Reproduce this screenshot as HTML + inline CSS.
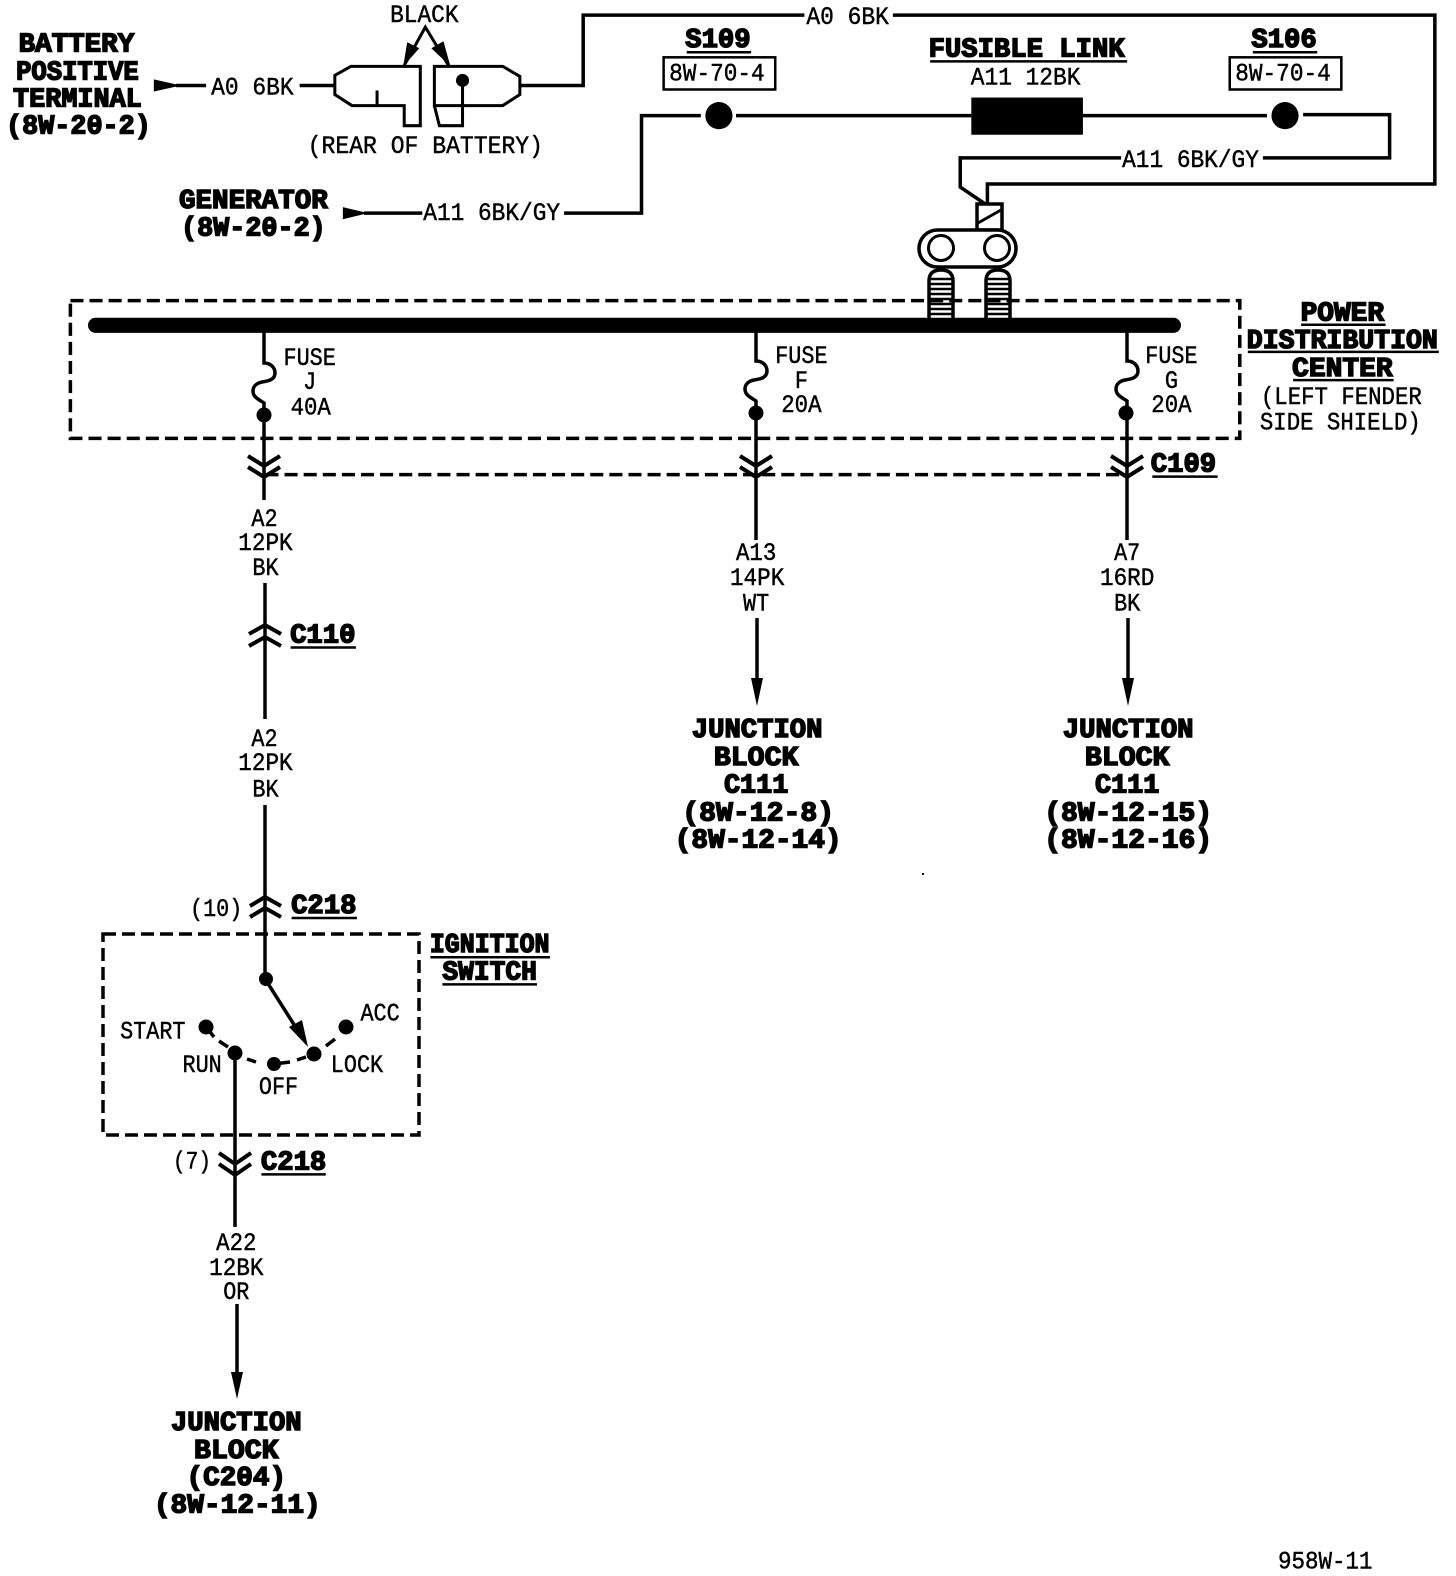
<!DOCTYPE html>
<html><head><meta charset="utf-8"><style>
html,body{margin:0;padding:0;background:#fff}
svg{display:block}
text{fill:#000;text-anchor:middle;font-family:"Liberation Mono",monospace;transform:translate(-1px,-1px)}
.r{font-size:25px;stroke:#000;stroke-width:.45px}
.b{font-size:27px;font-weight:bold;stroke:#000;stroke-width:1.5px}
.w{fill:none;stroke:#000;stroke-width:3.5}
.t{fill:none;stroke:#000;stroke-width:3}
.c{fill:none;stroke:#000;stroke-width:4}
.d{fill:none;stroke:#000;stroke-width:3.5;stroke-dasharray:13 6}
.u{stroke:#000;stroke-width:2.5}
</style></head><body>
<svg xmlns="http://www.w3.org/2000/svg" width="1456" height="1576" viewBox="0 0 1456 1576">
<rect width="1456" height="1576" fill="#fff"/>

<g transform="scale(1.0055)">
<!-- top wiring -->
<polyline class="w" points="517,85 580,85 580,15 800,15"/>
<polyline class="w" points="888,15 1427,15 1427,183 982,183 982,204"/>
<polyline class="w" points="298,85 332,85"/>
<polyline class="w" points="175,85 205,85"/>
<polygon points="153,79 180,85 153,91"/>
<polyline class="w" points="362,212 420,212"/>
<polygon points="341,206 366,212 341,218"/>
<polyline class="w" points="561,212 638,212 638,115 697,115"/>
<circle cx="715" cy="115" r="13.5"/>
<line class="w" x1="732" y1="115" x2="966" y2="115"/>
<rect x="966" y="97" width="111" height="37"/>
<line class="w" x1="1077" y1="115" x2="1260" y2="115"/>
<circle cx="1278" cy="115" r="13.5"/>
<polyline class="w" points="1296,114 1382,114 1382,157 1256,157"/>
<polyline class="w" points="1115,157 955,157 955,186 980,203"/>
<rect x="660" y="57" width="111" height="32" fill="none" stroke="#000" stroke-width="2.5"/>
<rect x="1223" y="57" width="111" height="32" fill="none" stroke="#000" stroke-width="2.5"/>

<!-- battery connector -->
<polygon class="t" points="349,66 418,66 418,125 402,125 402,105 350,105 333,94 333,75"/>
<polyline class="t" points="375,90 375,105"/>
<polygon class="t" points="432,66 500,66 517,76 517,94 500,105 432,105"/>
<polyline class="t" points="432,105 437,125 460,125 460,85"/>
<circle cx="460" cy="80" r="6.5"/>
<polyline class="t" points="402,65 423,27 446,65"/>
<polygon points="401,66 405,42 417,48"/>
<polygon points="448,66 429,48 441,41"/>

<!-- battery labels -->
<text class="b" x="77" y="52" textLength="115" lengthAdjust="spacingAndGlyphs">BATTERY</text>
<text class="b" x="78" y="80" textLength="122" lengthAdjust="spacingAndGlyphs">POSITIVE</text>
<text class="b" x="78" y="107" textLength="128" lengthAdjust="spacingAndGlyphs">TERMINAL</text>
<text class="b" x="79" y="134" textLength="144" lengthAdjust="spacingAndGlyphs">(8W-20-2)</text>
<text class="b" x="253" y="208" textLength="148" lengthAdjust="spacingAndGlyphs">GENERATOR</text>
<text class="b" x="253" y="235" textLength="144" lengthAdjust="spacingAndGlyphs">(8W-20-2)</text>
<text class="r" x="252" y="95" textLength="82" lengthAdjust="spacingAndGlyphs">A0 6BK</text>
<text class="r" x="423" y="23" textLength="68" lengthAdjust="spacingAndGlyphs">BLACK</text>
<text class="r" x="424" y="153" textLength="234" lengthAdjust="spacingAndGlyphs">(REAR OF BATTERY)</text>
<text class="r" x="844" y="25" textLength="82" lengthAdjust="spacingAndGlyphs">A0 6BK</text>
<text class="r" x="490" y="220" textLength="136" lengthAdjust="spacingAndGlyphs">A11 6BK/GY</text>
<text class="r" x="1185" y="167" textLength="136" lengthAdjust="spacingAndGlyphs">A11 6BK/GY</text>
<text class="r" x="1021" y="85" textLength="109" lengthAdjust="spacingAndGlyphs">A11 12BK</text>
<text class="r" x="714" y="81" textLength="95" lengthAdjust="spacingAndGlyphs">8W-70-4</text>
<text class="r" x="1277" y="81" textLength="95" lengthAdjust="spacingAndGlyphs">8W-70-4</text>
<text class="b" x="715" y="48" textLength="65" lengthAdjust="spacingAndGlyphs">S109</text>
<line class="u" x1="683" y1="52" x2="747" y2="52"/>
<text class="b" x="1278" y="48" textLength="65" lengthAdjust="spacingAndGlyphs">S106</text>
<line class="u" x1="1246" y1="52" x2="1310" y2="52"/>
<text class="b" x="1022" y="57" textLength="195" lengthAdjust="spacingAndGlyphs">FUSIBLE LINK</text>
<line class="u" x1="925" y1="61" x2="1121" y2="61"/>

<!-- PDC labels -->
<text class="b" x="1336" y="320" textLength="83" lengthAdjust="spacingAndGlyphs">POWER</text>
<line class="u" x1="1294" y1="323" x2="1378" y2="323"/>
<text class="b" x="1336" y="347" textLength="190" lengthAdjust="spacingAndGlyphs">DISTRIBUTION</text>
<line class="u" x1="1241" y1="350" x2="1431" y2="350"/>
<text class="b" x="1336" y="375" textLength="100" lengthAdjust="spacingAndGlyphs">CENTER</text>
<line class="u" x1="1286" y1="378" x2="1386" y2="378"/>
<text class="r" x="1335" y="403" textLength="160" lengthAdjust="spacingAndGlyphs">(LEFT FENDER</text>
<text class="r" x="1334" y="428" textLength="160" lengthAdjust="spacingAndGlyphs">SIDE SHIELD)</text>

<!-- fuses labels -->
<text class="r" x="309" y="364" textLength="52" lengthAdjust="spacingAndGlyphs">FUSE</text>
<text class="r" x="309" y="388" textLength="13" lengthAdjust="spacingAndGlyphs">J</text>
<text class="r" x="310" y="413" textLength="40" lengthAdjust="spacingAndGlyphs">40A</text>
<text class="r" x="798" y="362" textLength="52" lengthAdjust="spacingAndGlyphs">FUSE</text>
<text class="r" x="798" y="387" textLength="13" lengthAdjust="spacingAndGlyphs">F</text>
<text class="r" x="798" y="411" textLength="40" lengthAdjust="spacingAndGlyphs">20A</text>
<text class="r" x="1166" y="362" textLength="52" lengthAdjust="spacingAndGlyphs">FUSE</text>
<text class="r" x="1166" y="387" textLength="13" lengthAdjust="spacingAndGlyphs">G</text>
<text class="r" x="1166" y="411" textLength="40" lengthAdjust="spacingAndGlyphs">20A</text>

<text class="b" x="1178" y="470" textLength="65" lengthAdjust="spacingAndGlyphs">C109</text>
<line class="u" x1="1146" y1="474" x2="1211" y2="474"/>

<!-- col 1 labels -->
<text class="r" x="264" y="524" textLength="26" lengthAdjust="spacingAndGlyphs">A2</text>
<text class="r" x="265" y="548" textLength="54" lengthAdjust="spacingAndGlyphs">12PK</text>
<text class="r" x="265" y="573" textLength="26" lengthAdjust="spacingAndGlyphs">BK</text>
<text class="b" x="322" y="640" textLength="65" lengthAdjust="spacingAndGlyphs">C110</text>
<line class="u" x1="289" y1="644" x2="354" y2="644"/>
<text class="r" x="264" y="743" textLength="26" lengthAdjust="spacingAndGlyphs">A2</text>
<text class="r" x="265" y="767" textLength="54" lengthAdjust="spacingAndGlyphs">12PK</text>
<text class="r" x="265" y="793" textLength="26" lengthAdjust="spacingAndGlyphs">BK</text>
<text class="r" x="216" y="912" textLength="52" lengthAdjust="spacingAndGlyphs">(10)</text>
<text class="b" x="323" y="909" textLength="65" lengthAdjust="spacingAndGlyphs">C218</text>
<line class="u" x1="290" y1="913" x2="355" y2="913"/>
<text class="b" x="488" y="948" textLength="119" lengthAdjust="spacingAndGlyphs">IGNITION</text>
<line class="u" x1="428" y1="952" x2="547" y2="952"/>
<text class="b" x="488" y="975" textLength="94" lengthAdjust="spacingAndGlyphs">SWITCH</text>
<line class="u" x1="440" y1="979" x2="534" y2="979"/>
<text class="r" x="153" y="1034" textLength="65" lengthAdjust="spacingAndGlyphs">START</text>
<text class="r" x="379" y="1016" textLength="39" lengthAdjust="spacingAndGlyphs">ACC</text>
<text class="r" x="202" y="1067" textLength="39" lengthAdjust="spacingAndGlyphs">RUN</text>
<text class="r" x="356" y="1067" textLength="52" lengthAdjust="spacingAndGlyphs">LOCK</text>
<text class="r" x="278" y="1089" textLength="39" lengthAdjust="spacingAndGlyphs">OFF</text>
<text class="r" x="192" y="1163" textLength="38" lengthAdjust="spacingAndGlyphs">(7)</text>
<text class="b" x="293" y="1164" textLength="65" lengthAdjust="spacingAndGlyphs">C218</text>
<line class="u" x1="260" y1="1168" x2="324" y2="1168"/>
<text class="r" x="236" y="1244" textLength="40" lengthAdjust="spacingAndGlyphs">A22</text>
<text class="r" x="236" y="1269" textLength="54" lengthAdjust="spacingAndGlyphs">12BK</text>
<text class="r" x="236" y="1293" textLength="26" lengthAdjust="spacingAndGlyphs">OR</text>

<!-- col 2/3 labels -->
<text class="r" x="753" y="558" textLength="40" lengthAdjust="spacingAndGlyphs">A13</text>
<text class="r" x="754" y="583" textLength="54" lengthAdjust="spacingAndGlyphs">14PK</text>
<text class="r" x="753" y="608" textLength="26" lengthAdjust="spacingAndGlyphs">WT</text>
<text class="r" x="1122" y="558" textLength="26" lengthAdjust="spacingAndGlyphs">A7</text>
<text class="r" x="1122" y="583" textLength="54" lengthAdjust="spacingAndGlyphs">16RD</text>
<text class="r" x="1122" y="608" textLength="26" lengthAdjust="spacingAndGlyphs">BK</text>

<text class="b" x="754" y="734" textLength="130" lengthAdjust="spacingAndGlyphs">JUNCTION</text>
<text class="b" x="753" y="762" textLength="84" lengthAdjust="spacingAndGlyphs">BLOCK</text>
<text class="b" x="753" y="789" textLength="64" lengthAdjust="spacingAndGlyphs">C111</text>
<text class="b" x="755" y="817" textLength="151" lengthAdjust="spacingAndGlyphs">(8W-12-8)</text>
<text class="b" x="755" y="844" textLength="166" lengthAdjust="spacingAndGlyphs">(8W-12-14)</text>
<text class="b" x="1123" y="734" textLength="130" lengthAdjust="spacingAndGlyphs">JUNCTION</text>
<text class="b" x="1122" y="762" textLength="84" lengthAdjust="spacingAndGlyphs">BLOCK</text>
<text class="b" x="1122" y="789" textLength="64" lengthAdjust="spacingAndGlyphs">C111</text>
<text class="b" x="1123" y="817" textLength="167" lengthAdjust="spacingAndGlyphs">(8W-12-15)</text>
<text class="b" x="1123" y="844" textLength="167" lengthAdjust="spacingAndGlyphs">(8W-12-16)</text>
<text class="b" x="236" y="1423" textLength="130" lengthAdjust="spacingAndGlyphs">JUNCTION</text>
<text class="b" x="236" y="1451" textLength="84" lengthAdjust="spacingAndGlyphs">BLOCK</text>
<text class="b" x="236" y="1478" textLength="99" lengthAdjust="spacingAndGlyphs">(C204)</text>
<text class="b" x="237" y="1505" textLength="166" lengthAdjust="spacingAndGlyphs">(8W-12-11)</text>
<text class="r" x="1319" y="1561" textLength="94" lengthAdjust="spacingAndGlyphs">958W-11</text>

<!-- dashed PDC box and dashed link -->
<rect class="d" x="70" y="299" width="1163" height="137"/>
<line class="d" x1="264" y1="472" x2="1120" y2="472"/>
<!-- bus bar -->
<line x1="95" y1="323.5" x2="1167" y2="323.5" stroke="#000" stroke-width="15" stroke-linecap="round"/>
</g>

<!-- true-coordinate parts -->
<!-- terminal -->
<rect x="977" y="204" width="25" height="26" fill="#fff" stroke="#000" stroke-width="3.5"/>
<line x1="978" y1="223" x2="1001" y2="210" stroke="#000" stroke-width="3"/>
<rect x="919" y="230" width="97" height="37" rx="18.5" fill="#fff" stroke="#000" stroke-width="3.5"/>
<circle cx="941" cy="248" r="12.5" fill="#fff" stroke="#000" stroke-width="3"/>
<circle cx="997" cy="248" r="12.5" fill="#fff" stroke="#000" stroke-width="3"/>
<path class="w" d="M929 319V281Q929 270 941 270Q953 270 953 281V319"/>
<path class="w" d="M986 319V281Q986 270 998 270Q1010 270 1010 281V319"/>
<path stroke="#000" stroke-width="2.5" fill="none" d="M930 279h22M930 284h22M930 289h22M930 294h22M930 299h22M930 304h22M930 309h22M930 314h22M987 279h22M987 284h22M987 289h22M987 294h22M987 299h22M987 304h22M987 309h22M987 314h22"/>

<!-- column 1 -->
<path class="w" d="M264 326V363C270 363 275 367 275 373C275 380 268 381 262 382C257 383 253 386 253 391C253 397 258 399 264 403V500"/>
<circle cx="264" cy="415" r="7.5"/>
<path class="c" d="M248 456L264 466L280 456M248 467L264 477L280 467"/>
<line class="w" x1="265" y1="583" x2="265" y2="719"/>
<path class="c" d="M249 634L265 625L281 634M249 646L265 637L281 646"/>
<line class="w" x1="265" y1="805" x2="265" y2="979"/>
<path class="c" d="M250 906L265 897L281 906M250 917L265 908L281 917"/>
<circle cx="266" cy="979" r="7"/>

<!-- column 2 -->
<path class="w" d="M756 326V361C762 361 767 365 767 371C767 378 760 379 754 380C749 381 745 384 745 389C745 395 750 397 756 401V540"/>
<circle cx="756" cy="413" r="7.5"/>
<path class="c" d="M740 456L756 466L772 456M740 467L756 477L772 467"/>
<line class="w" x1="757" y1="618" x2="757" y2="685"/>
<polygon points="751,678 763,678 757,706"/>

<!-- column 3 -->
<path class="w" d="M1127 326V361C1133 361 1138 365 1138 371C1138 378 1131 379 1125 380C1120 381 1116 384 1116 389C1116 395 1121 397 1127 401V540"/>
<circle cx="1126" cy="413" r="7.5"/>
<path class="c" d="M1111 456L1127 466L1143 456M1111 467L1127 477L1143 467"/>
<line class="w" x1="1128" y1="618" x2="1128" y2="685"/>
<polygon points="1122,678 1134,678 1128,706"/>

<!-- ignition switch -->
<rect class="d" x="103" y="934" width="316" height="201"/>
<line class="w" x1="267" y1="982" x2="300" y2="1034"/>
<polygon points="289,1027 302,1020 308,1047"/>
<circle cx="206" cy="1027" r="7.5"/>
<circle cx="235" cy="1053" r="7.5"/>
<circle cx="274" cy="1064" r="7"/>
<circle cx="314" cy="1054" r="7.5"/>
<circle cx="346" cy="1027" r="7.5"/>
<path class="w" d="M206 1027L214 1037M219 1041L228 1047M247 1059L256 1062M274 1064L290 1062M297 1060L306 1057M326 1046L335 1039"/>
<line class="w" x1="235" y1="1053" x2="235" y2="1227"/>
<path class="c" d="M219 1153L235 1164L251 1153M219 1164L235 1175L251 1164"/>
<line class="w" x1="237" y1="1304" x2="237" y2="1378"/>
<polygon points="231,1372 243,1372 237,1399"/>
<rect x="922" y="873" width="2" height="2" fill="#000"/>
</svg>
</body></html>
